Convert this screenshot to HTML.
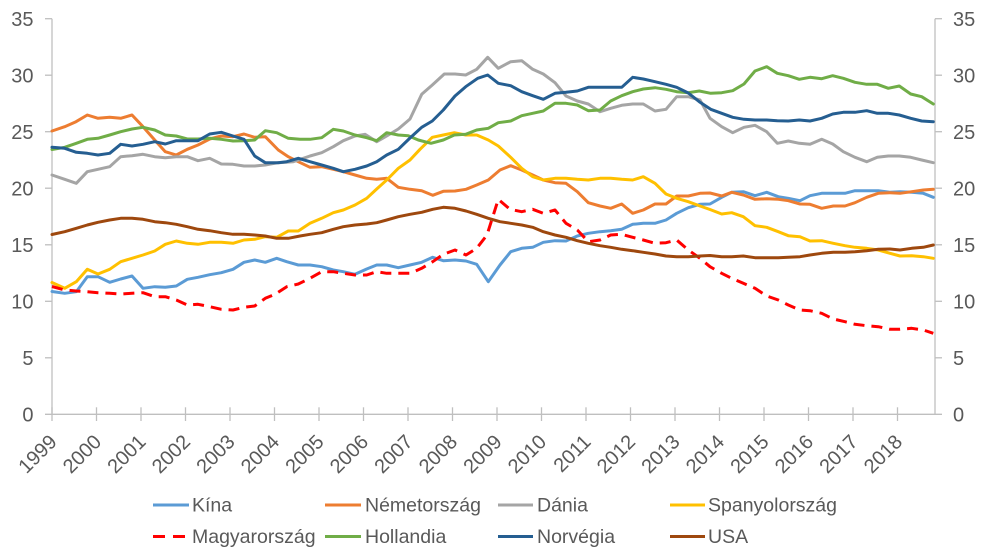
<!DOCTYPE html>
<html>
<head>
<meta charset="utf-8">
<style>
  html,body{margin:0;padding:0;background:#fff;}
  svg{display:block;}
  text{font-family:"Liberation Sans",Arial,sans-serif;fill:#595959;}
</style>
</head>
<body>
<svg width="987" height="559" viewBox="0 0 987 559" xmlns="http://www.w3.org/2000/svg">
  <rect x="0" y="0" width="987" height="559" fill="#fff"/>
  <!-- axes -->
  <g stroke="#BFBFBF" stroke-width="1.3" fill="none">
    <line x1="52" y1="18.7" x2="52" y2="414.3"/>
    <line x1="935" y1="18.7" x2="935" y2="414.3"/>
    <line x1="45" y1="414.3" x2="942" y2="414.3"/>
    <line x1="45" y1="18.7" x2="52" y2="18.7"/>
    <line x1="45" y1="75.2" x2="52" y2="75.2"/>
    <line x1="45" y1="131.7" x2="52" y2="131.7"/>
    <line x1="45" y1="188.2" x2="52" y2="188.2"/>
    <line x1="45" y1="244.8" x2="52" y2="244.8"/>
    <line x1="45" y1="301.3" x2="52" y2="301.3"/>
    <line x1="45" y1="357.8" x2="52" y2="357.8"/>
    <line x1="935" y1="18.7" x2="942" y2="18.7"/>
    <line x1="935" y1="75.2" x2="942" y2="75.2"/>
    <line x1="935" y1="131.7" x2="942" y2="131.7"/>
    <line x1="935" y1="188.2" x2="942" y2="188.2"/>
    <line x1="935" y1="244.8" x2="942" y2="244.8"/>
    <line x1="935" y1="301.3" x2="942" y2="301.3"/>
    <line x1="935" y1="357.8" x2="942" y2="357.8"/>
    <line x1="52" y1="407.3" x2="52" y2="421"/>
    <line x1="96.5" y1="407.3" x2="96.5" y2="421"/>
    <line x1="141" y1="407.3" x2="141" y2="421"/>
    <line x1="185.5" y1="407.3" x2="185.5" y2="421"/>
    <line x1="230" y1="407.3" x2="230" y2="421"/>
    <line x1="274.5" y1="407.3" x2="274.5" y2="421"/>
    <line x1="319" y1="407.3" x2="319" y2="421"/>
    <line x1="363.5" y1="407.3" x2="363.5" y2="421"/>
    <line x1="408" y1="407.3" x2="408" y2="421"/>
    <line x1="452.5" y1="407.3" x2="452.5" y2="421"/>
    <line x1="497" y1="407.3" x2="497" y2="421"/>
    <line x1="541.5" y1="407.3" x2="541.5" y2="421"/>
    <line x1="586" y1="407.3" x2="586" y2="421"/>
    <line x1="630.5" y1="407.3" x2="630.5" y2="421"/>
    <line x1="675" y1="407.3" x2="675" y2="421"/>
    <line x1="719.5" y1="407.3" x2="719.5" y2="421"/>
    <line x1="764" y1="407.3" x2="764" y2="421"/>
    <line x1="808.5" y1="407.3" x2="808.5" y2="421"/>
    <line x1="853" y1="407.3" x2="853" y2="421"/>
    <line x1="897.5" y1="407.3" x2="897.5" y2="421"/>
  </g>

  <!-- left y labels -->
  <g font-size="20" text-anchor="end">
    <text x="33.5" y="26">35</text>
    <text x="33.5" y="82.5">30</text>
    <text x="33.5" y="139">25</text>
    <text x="33.5" y="195.5">20</text>
    <text x="33.5" y="252">15</text>
    <text x="33.5" y="308.5">10</text>
    <text x="33.5" y="365">5</text>
    <text x="33.5" y="421.5">0</text>
  </g>
  <!-- right y labels -->
  <g font-size="20" text-anchor="start">
    <text x="953" y="26">35</text>
    <text x="953" y="82.5">30</text>
    <text x="953" y="139">25</text>
    <text x="953" y="195.5">20</text>
    <text x="953" y="252">15</text>
    <text x="953" y="308.5">10</text>
    <text x="953" y="365">5</text>
    <text x="953" y="421.5">0</text>
  </g>

  <!-- x labels -->
  <g font-size="20" text-anchor="end">
    <text transform="translate(58,443) rotate(-45)">1999</text>
    <text transform="translate(102.5,443) rotate(-45)">2000</text>
    <text transform="translate(147,443) rotate(-45)">2001</text>
    <text transform="translate(191.5,443) rotate(-45)">2002</text>
    <text transform="translate(236,443) rotate(-45)">2003</text>
    <text transform="translate(280.5,443) rotate(-45)">2004</text>
    <text transform="translate(325,443) rotate(-45)">2005</text>
    <text transform="translate(369.5,443) rotate(-45)">2006</text>
    <text transform="translate(414,443) rotate(-45)">2007</text>
    <text transform="translate(458.5,443) rotate(-45)">2008</text>
    <text transform="translate(503,443) rotate(-45)">2009</text>
    <text transform="translate(547.5,443) rotate(-45)">2010</text>
    <text transform="translate(592,443) rotate(-45)">2011</text>
    <text transform="translate(636.5,443) rotate(-45)">2012</text>
    <text transform="translate(681,443) rotate(-45)">2013</text>
    <text transform="translate(725.5,443) rotate(-45)">2014</text>
    <text transform="translate(770,443) rotate(-45)">2015</text>
    <text transform="translate(814.5,443) rotate(-45)">2016</text>
    <text transform="translate(859,443) rotate(-45)">2017</text>
    <text transform="translate(903.5,443) rotate(-45)">2018</text>
  </g>

  <!-- series -->
  <g fill="none" stroke-width="3" stroke-linejoin="round" stroke-linecap="round">
    <polyline stroke="#5B9BD5" points="52,291.5 64.7,293.3 76.3,291.7 87.3,276.7 98,276.7 109.7,282.3 120.7,279 132,276 143,288.3 154.7,286.7 165.3,287.3 176.3,286 187.3,279.3 198,277.3 209.7,274.7 221.3,272.7 233,269.3 244,262.3 254.7,260 265.3,262.3 276.7,258.3 286.7,261.7 298.3,265 310,265 321.7,266.7 333.3,270 343.3,271.7 355,274.3 366.7,269 376.7,265 386.7,265 398.3,267.7 410,265 421.7,262.3 432.7,257.3 443.3,260.7 455,260 466,261 476.7,264.3 488.3,281.7 500,265 510.7,251.7 521.7,248.3 532.7,247.3 543.3,242.3 555,240.7 566,241 577.3,236 588.3,233.3 600,231.7 610.7,230.7 621.7,229.3 632.7,224.3 643.3,223.3 655,223.3 666,220 676.7,213.3 688.3,207.7 700,204.3 710,204 721.7,197.3 731.7,192.3 743.3,191.7 755,195.7 766.7,192.3 778.3,196.7 788.3,198.3 800,200.7 810,195.7 821.7,193.3 833.3,193.3 845,193.3 855,190.7 866.7,190.7 878.3,190.7 890,192.3 900,191.7 911.7,192.3 923.3,193.3 933.3,197.3"/>
    <polyline stroke="#ED7D31" points="52,131 64.7,126.7 76,121.7 87.3,115 98,118.3 109.7,117.3 120.7,118.3 132,115 143,126.7 154.7,140 165.3,151.7 176.3,155 187.3,149.3 198,145 209.7,139 221.3,136 233,136.7 244,134 254.7,137.3 265.3,136.7 278.3,150 288.3,156.7 298.3,161.7 310,167.3 321.7,166.7 333.3,169.3 343.3,171.7 355,175 366.7,178.3 376.7,179.3 386.7,178.3 398.3,187.3 410,189.3 421.7,190.7 432.7,195.3 443.3,191.3 455,191 466,189.3 476.7,185 488.3,180 500,170 510.7,165.7 521.7,170 532.7,175 543.3,180 555,182.7 566,183.3 577.3,191.7 588.3,202.7 600,206 610.7,208.3 621.7,204 632.7,213.3 643.3,210 655,204 666,204 676.7,196 688.3,196 700,193.3 710,193 721.7,196 731.7,192.3 743.3,195 755,199.3 766.7,198.7 778.3,199.3 788.3,200.7 800,204 810,204.3 821.7,208.3 833.3,206 845,206 855,202.7 866.7,197.3 878.3,193.3 890,192.7 900,193.3 911.7,191.7 923.3,190 933.3,189.3"/>
    <polyline stroke="#A5A5A5" points="52,175 64.7,179.3 76.3,183.3 87.3,171.7 98,169.3 109.7,166.7 120.7,156.7 132,155.7 143,154.3 154.7,156.7 165.3,157.7 176.3,156.7 187.3,156.7 198,160.7 209.7,158.3 221.3,164 233,164.3 244,166 254.7,166 265.3,165 278,162.7 293.3,161.7 303.3,158.3 310,156 321.7,152.7 333.3,146.7 343.3,140.7 355,136 365,134.3 376.7,141.7 386.7,136 398.3,129 410,119 421.7,94.3 432.3,85 444.3,74 455,74 465.7,75 476.7,69.3 487.7,57.3 498.3,68.3 510.7,61.7 521.7,60.7 532.7,69.3 543.3,74 555,82.7 566,96 577.3,101 588.3,104 600,111.7 610.7,108.3 621.7,105.3 632.7,104 643.3,104 655,111 666,109.3 676.7,96.7 688.3,96.7 700,100 710,118.3 721.7,126.7 732.7,132.7 744,127.3 755,125.3 766.7,131.7 777.3,143.3 788.3,141 799.3,143.3 810,144.3 821.7,139.3 832.7,144 843.3,151.7 855,157.3 866.7,161.7 877.3,157.3 888.3,156 899.3,156 910.7,157.3 921.7,160 933.3,162.7"/>
    <polyline stroke="#FFC000" points="52,282.5 64.7,288.3 76.3,281.7 87.3,269.3 98,274 109.7,269.3 120.7,261.7 132,258.3 143,255 154.7,251 165.3,244.3 176.3,241 187.3,243.3 198,244.3 209.7,242.3 221.3,242.3 233,243.3 244,240 254.7,239.3 265.3,236.7 276.7,237.3 288.3,231 298.3,231 310,223.3 321.7,218.3 333.3,212.7 343.3,210 355,205 366.7,198.3 376.7,189 386.7,180 398.3,168.3 410,160 420,149.3 432.3,137.3 443.3,135 454.3,132.7 465.7,135 476.7,135 488.3,140 498.3,146 510.7,157.3 521.7,168.3 532.7,176.7 543.3,180 555,178.3 566,178.3 577.3,179.3 588.3,180 600,178.3 610.7,178.3 621.7,179.3 632.7,180 643.3,176.7 655,183.3 666,194 676.7,198.3 688.3,201.7 700,206 710,209.5 721.7,214 731.7,212.7 743.3,216.7 755,225.7 766.7,227.3 778.3,231.7 788.3,235.7 800,236.7 810,241 821.7,240.7 833.3,243.3 845,245.7 855,247.3 866.7,248.3 878.3,250 890,253.3 900,256 911.7,255.7 923.3,256.7 933.3,258.3"/>
    <polyline stroke="#FF0000" stroke-dasharray="11 7" stroke-linecap="butt" points="52,286.5 64.7,290 76.3,291 87.3,291.7 98,292.7 109.7,293.3 120.7,294 132,293.3 143,292.7 154.7,296.7 165.3,296.7 176.3,300 187.3,305 198,304.3 209.7,306.7 221.3,309.3 233,310 244,307.3 254.7,306 265.3,298.3 275,294.3 286.7,286.7 298.3,284 310,278.3 321.7,271.7 333.3,271.7 343.3,273.3 355,275 366.7,275 376.7,271.7 386.7,273.3 398.3,273.3 410,273.3 421.7,268.3 432.7,261.7 443.3,254.3 455,250 466,255 476.7,248.3 487,235 498.3,199.3 510,209.3 521.7,211.7 532.7,209.3 543.3,213.3 555,210 566,223.3 577.3,230 588.3,241.7 600,240 610.7,235 621.7,234.3 632.7,237.3 643.3,240 655,243.3 666,242.7 676.7,240 688.3,250 700,258.3 710,266.7 721.7,273.3 731.7,278.3 743.3,283.3 755,288.3 766.7,296 778.3,300 788.3,305 800,310 810,310.7 821.7,313.3 833.3,319 845,321.7 855,324.3 866.7,325.7 878.3,326.7 890,329.3 900,329.3 911.7,328.3 923.3,330 933.3,333.3"/>
    <polyline stroke="#70AD47" points="52,149.5 64.7,147.3 76.3,143.3 87.3,139.3 98,138.3 109.7,135 120.7,131.7 132,129 143,127.3 154.7,130 165.3,135 176.3,136 187.3,139 198,139 209.7,138.3 221.3,139.3 233,141 244,140.7 254.7,140 265.3,130.7 276.7,132.7 288.3,138.3 300,139.3 310,139.3 321.7,137.7 333.3,129.3 343.3,131 355,135 366.7,137.7 376.7,140.7 386.7,132.7 398.3,135 408.3,135.7 418.3,140 431,143.3 443.3,140 454.3,135 465.7,134.3 476.7,130 488.3,128.3 498.3,122.7 510.7,121 521.7,115.7 532.7,113.3 543.3,111 555,103.3 566,103.3 577.3,105 588.3,110.7 600,110 610.7,101 621.7,95.7 632.7,91.7 643.3,89 655,87.7 666,89.3 676.7,91.7 688.3,92.7 699.3,91 710.7,93.3 721.7,92.7 732.7,90.7 744,84 755,71 766.7,66.7 777.3,73.3 788.3,75.7 799.3,79.3 810,77.3 821.7,78.7 832.7,75.7 843.3,78.3 855,82.3 866.7,84.3 877.3,84.3 888.3,88.3 899.3,86 910.7,94 921.7,96.7 933.3,104"/>
    <polyline stroke="#255E91" points="52,147.3 64.7,148.3 76.3,152.3 87.3,153.3 98,155 109.7,153.3 120.7,144.3 132,146 143,144.3 154.7,141.7 165.3,144 176.3,140.7 187.3,140.7 198,140.7 209.7,134 221.3,132.3 233,136 244,139.3 254.7,156 265.3,162.7 278,162.7 286.7,161.7 298.3,158.3 310,161.7 321.7,165 333.3,168.3 343.3,171.7 355,169.3 366.7,166 376.7,161.7 386.7,155 398.3,149.3 410,138 421.7,127.3 432.3,121 443.3,110 455,96 465.7,86.7 477.7,78.3 487.7,75 498.3,83.3 510.7,85.7 521.7,91.7 532.7,95.7 543.3,99.3 555,93.3 566,92.3 577.3,91 588.3,87.3 600,87.3 610.7,87.3 621.7,87.3 632.7,77.3 643.3,79 655,81.7 666,84.3 676.7,87.3 688.3,93 699.3,101.7 710.7,109.3 721.7,113.3 732.7,117.3 744,119.3 755,120 766.7,120 777.3,120.7 788.3,121 799.3,120 810,121 821.7,118.3 832.7,114 843.3,112.3 855,112.3 866.7,110.7 877.3,113.3 888.3,113.3 899.3,115 910.7,118.3 921.7,121 933.3,121.7"/>
    <polyline stroke="#9E480E" points="52,234.5 64.7,231.7 76.3,228.3 87.3,225 98,222.3 109.7,220 120.7,218.3 132,218.3 143,219.3 154.7,221.7 165.3,222.7 176.3,224.3 187.3,226.7 198,229.3 209.7,230.7 221.3,232.7 233,234.3 244,234.3 254.7,235 265.3,236 276.7,238.3 288.3,238.3 300,236 310,234.3 321.7,232.7 333.3,229.3 343.3,226.7 355,225 366.7,224 376.7,222.7 386.7,220 398.3,216.7 410,214.3 421.7,212.3 432.7,209.3 443.3,207.3 455,208.3 466,211 476.7,214.3 488.3,218.3 500,221.7 510.7,223.3 521.7,225 532.7,227.3 543.3,231.7 555,235 566,237.3 577.3,240.7 588.3,243.3 600,245.7 610.7,247.3 621.7,249.3 632.7,250.7 643.3,252.3 655,254 666,256 676.7,256.7 688.3,256.7 700,256 710,255.5 721.7,256.7 731.7,256.7 743.3,256 755,257.7 766.7,257.7 778.3,257.7 788.3,257.3 800,256.7 810,255 821.7,253.3 833.3,252.3 845,252.3 855,251.7 866.7,250.7 878.3,249.3 890,249 900,250 911.7,248.3 923.3,247.3 933.3,245"/>
  </g>

  <!-- legend -->
  <g stroke-width="3" fill="none">
    <line x1="153" y1="505" x2="189" y2="505" stroke="#5B9BD5"/>
    <line x1="325" y1="505" x2="361" y2="505" stroke="#ED7D31"/>
    <line x1="498" y1="505" x2="533" y2="505" stroke="#A5A5A5"/>
    <line x1="670" y1="505" x2="705" y2="505" stroke="#FFC000"/>
    <line x1="153" y1="536.5" x2="189" y2="536.5" stroke="#FF0000" stroke-dasharray="12 8"/>
    <line x1="325" y1="536.5" x2="361" y2="536.5" stroke="#70AD47"/>
    <line x1="498" y1="536.5" x2="533" y2="536.5" stroke="#255E91"/>
    <line x1="670" y1="536.5" x2="705" y2="536.5" stroke="#9E480E"/>
  </g>
  <g font-size="19.5">
    <text x="192" y="511.5">Kína</text>
    <text x="365" y="511.5">Németország</text>
    <text x="537" y="511.5">Dánia</text>
    <text x="708" y="511.5">Spanyolország</text>
    <text x="192" y="543">Magyarország</text>
    <text x="365" y="543">Hollandia</text>
    <text x="537" y="543">Norvégia</text>
    <text x="708" y="543">USA</text>
  </g>
</svg>
</body>
</html>
